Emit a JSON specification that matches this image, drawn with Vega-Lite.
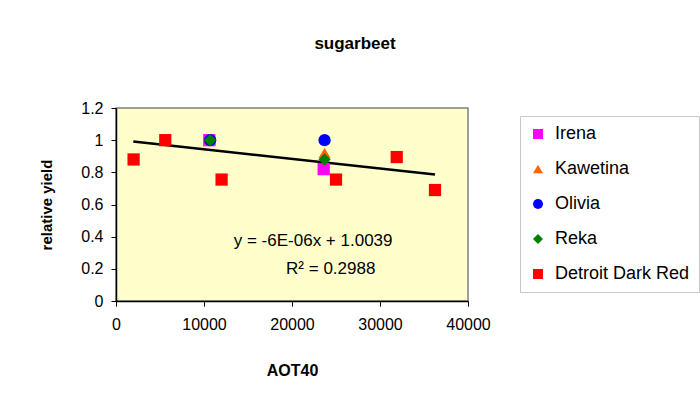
{
  "$schema": "https://vega.github.io/schema/vega-lite/v6.json",
  "autosize": {"type": "none"},
  "width": 352,
  "height": 193,
  "padding": {"left": 116, "top": 108, "right": 232, "bottom": 101},
  "background": "white",
  "config": {
    "font": "Liberation Sans",
    "view": {"fill": "#FFFFCC", "stroke": "#808080", "strokeWidth": 1.5},
    "axis": {"grid": false, "domainColor": "black", "tickColor": "black", "domainWidth": 1.5, "tickSize": 5, "labelFont": "Liberation Sans", "labelFontSize": 16, "labelColor": "black", "labelFlush": false, "labelOverlap": false, "titleFont": "Liberation Sans", "titleFontSize": 15, "titleFontWeight": "bold", "titleColor": "black"},
    "legend": {"labelFont": "Liberation Sans", "labelFontSize": 18, "labelColor": "black"}
  },
  "title": {"text": "sugarbeet", "fontSize": 17, "fontWeight": "bold", "font": "Liberation Sans", "color": "black", "dx": 63, "offset": 47, "anchor": "middle"},
  "datasets": {
    "points": [
      {"cultivar": "Irena", "AOT40": 10600, "yield": 1.0},
      {"cultivar": "Irena", "AOT40": 23600, "yield": 0.82},
      {"cultivar": "Kawetina", "AOT40": 10700, "yield": 1.0},
      {"cultivar": "Kawetina", "AOT40": 23700, "yield": 0.92},
      {"cultivar": "Olivia", "AOT40": 10700, "yield": 1.0},
      {"cultivar": "Olivia", "AOT40": 23700, "yield": 1.0},
      {"cultivar": "Reka", "AOT40": 10700, "yield": 1.0},
      {"cultivar": "Reka", "AOT40": 23700, "yield": 0.88},
      {"cultivar": "Detroit Dark Red", "AOT40": 2000, "yield": 0.88},
      {"cultivar": "Detroit Dark Red", "AOT40": 5600, "yield": 1.0},
      {"cultivar": "Detroit Dark Red", "AOT40": 12000, "yield": 0.755},
      {"cultivar": "Detroit Dark Red", "AOT40": 25000, "yield": 0.755},
      {"cultivar": "Detroit Dark Red", "AOT40": 31900, "yield": 0.895},
      {"cultivar": "Detroit Dark Red", "AOT40": 36250, "yield": 0.69}
    ],
    "trend": [
      {"AOT40": 1966, "yield": 0.992},
      {"AOT40": 36250, "yield": 0.786}
    ],
    "labels": [
      {"AOT40": 22400, "yield": 0.37, "text": "y = -6E-06x + 1.0039"},
      {"AOT40": 24400, "yield": 0.2, "text": "R² = 0.2988"}
    ]
  },
  "encoding": {
    "x": {"field": "AOT40", "type": "quantitative", "scale": {"domain": [0, 40000], "nice": false}, "axis": {"title": "AOT40", "values": [0, 10000, 20000, 30000, 40000], "format": "d", "labelPadding": 10, "titleX": 176, "titleY": 69, "titleBaseline": "middle", "titleFontSize": 16}},
    "y": {"field": "yield", "type": "quantitative", "scale": {"domain": [0, 1.2], "nice": false}, "axis": {"title": "relative yield", "values": [0, 0.2, 0.4, 0.6, 0.8, 1, 1.2], "tickCount": 7, "format": ".1~f", "labelPadding": 8, "titleX": -70, "titleY": 96.5, "titleAngle": -90, "titleAlign": "center", "titleBaseline": "middle"}}
  },
  "layer": [
    {
      "data": {"name": "trend"},
      "mark": {"type": "line", "color": "black", "strokeWidth": 2.5}
    },
    {
      "data": {"name": "points"},
      "mark": {"type": "point", "filled": true, "opacity": 1, "size": 150},
      "encoding": {
        "color": {"field": "cultivar", "type": "nominal", "scale": {"domain": ["Irena", "Kawetina", "Olivia", "Reka", "Detroit Dark Red"], "range": ["#FF00FF", "#FF6600", "#0000FF", "#008000", "#FF0000"]}, "legend": {"title": null, "orient": "none", "legendX": 404, "legendY": 8, "strokeColor": "#c8c8c8", "padding": 9, "rowPadding": 17, "symbolSize": 100, "labelOffset": 8, "symbolStrokeWidth": 0}},
        "shape": {"field": "cultivar", "type": "nominal", "scale": {"domain": ["Irena", "Kawetina", "Olivia", "Reka", "Detroit Dark Red"], "range": ["square", "triangle-up", "circle", "diamond", "square"]}, "legend": {"title": null}}
      }
    },
    {
      "data": {"name": "labels"},
      "mark": {"type": "text", "fontSize": 17, "font": "Liberation Sans", "color": "black", "align": "center", "baseline": "middle"},
      "encoding": {
        "text": {"field": "text", "type": "nominal"}
      }
    }
  ]
}
